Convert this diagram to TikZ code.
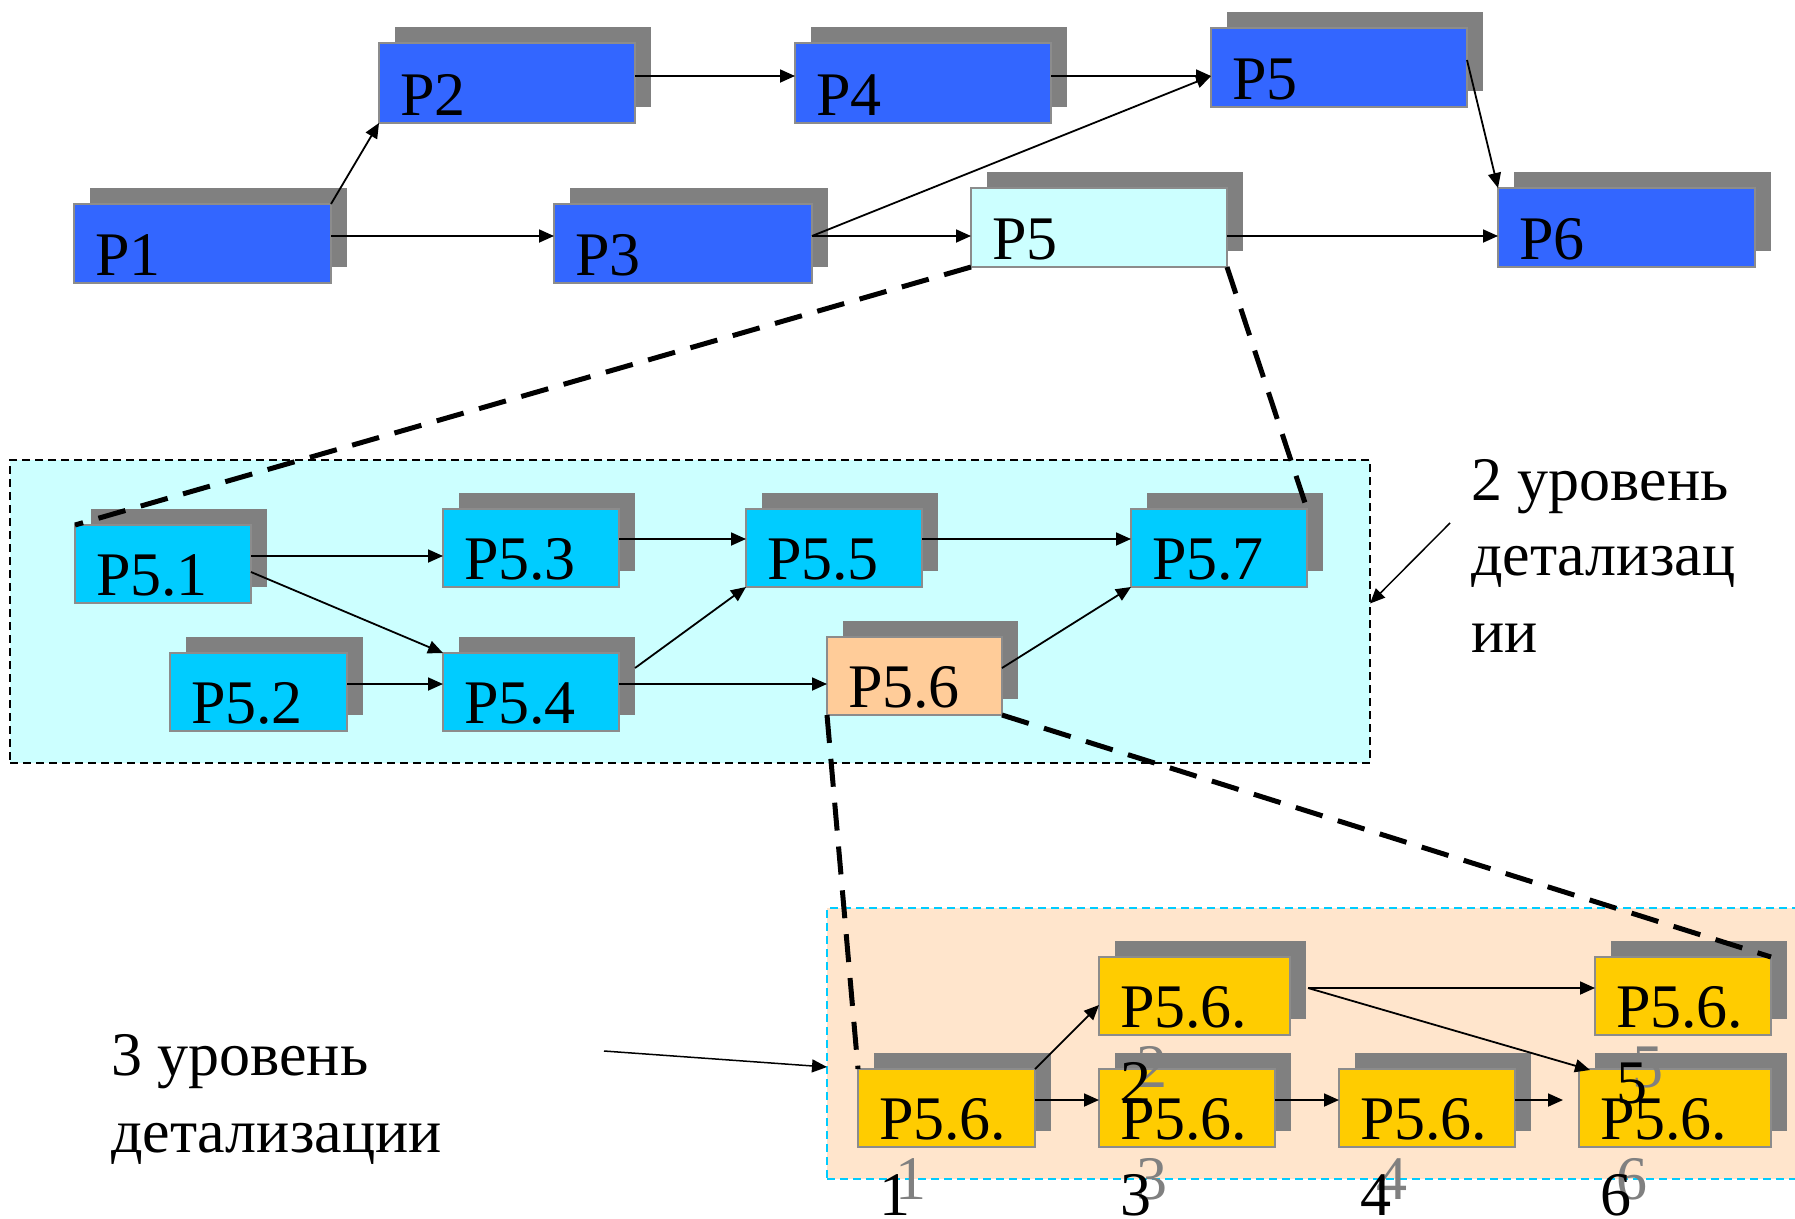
\documentclass[tikz,border=0pt]{standalone}
\usepackage{fontspec}
\setmainfont{Liberation Serif}
\usetikzlibrary{arrows.meta}
\definecolor{cblue}{HTML}{3366FF}
\definecolor{ccyan}{HTML}{00CCFF}
\definecolor{clcyan}{HTML}{CCFFFF}
\definecolor{corange}{HTML}{FFCC99}
\definecolor{cyellow}{HTML}{FFCC00}
\definecolor{cpeach}{HTML}{FFE5CC}
\definecolor{shadowc}{HTML}{808080}
\definecolor{borderc}{HTML}{8C8C8C}
\tikzset{
  boxbase/.style={draw=borderc,line width=2pt,inner sep=0pt,outer sep=0pt},
  lbl/.style={anchor=base west,inner sep=0pt,outer sep=0pt,font=\fontsize{62}{76}\selectfont},
  arr/.style={draw,line width=1.8pt,-{Triangle[length=15pt,width=13pt]}},
  zoomline/.style={draw,line width=5pt,dash pattern=on 28pt off 16pt},
  region/.style={line width=1.5pt,dash pattern=on 8pt off 5pt,inner sep=0pt,outer sep=0pt}
}
% name, left, top, right, bottom, fill, text
\newcommand\mkbox[7]{%
  \fill[shadowc] ({#2+16},{#3-16}) rectangle ({#4+16},{#5-16});
  \node[boxbase,fill=#6,minimum width={#4-#2},minimum height={#5-#3}] (#1) at ({(#2+#4)/2},{(#3+#5)/2}) {};
  \node[lbl] (#1t) at ({#2+21},{#5-8}) {#7};
}
% name, left, top, right, bottom, number
\newcommand\mkboxiii[6]{%
  \fill[shadowc] ({#2+16},{#3-16}) rectangle ({#4+16},{#5-16});
  \node[lbl,text=shadowc] (#1g) at ({#2+37},{#5-24}) {P5.6.};
  \node[lbl,text=shadowc] (#1gn) at ({#2+37},{#5+52}) {#6};
  \node[boxbase,fill=cyellow,minimum width={#4-#2},minimum height={#5-#3}] (#1) at ({(#2+#4)/2},{(#3+#5)/2}) {};
  \node[lbl] (#1t) at ({#2+21},{#5-8}) {P5.6.};
  \node[lbl] (#1n) at ({#2+21},{#5+68}) {#6};
}
\begin{document}
\begin{tikzpicture}[x=1pt,y=-1pt]
\useasboundingbox[fill=white] (0,0) rectangle (1795,1218);

% regions
\node[region,draw=black,fill=clcyan,minimum width=1360,minimum height=303] (lvl2) at (690,611.5) {};
\node[region,draw=ccyan,fill=cpeach,minimum width=975,minimum height=271] (lvl3) at (1314.5,1043.5) {};

% level 1
\mkbox{p1}{74}{204}{331}{283}{cblue}{P1}
\mkbox{p2}{379}{43}{635}{123}{cblue}{P2}
\mkbox{p3}{554}{204}{812}{283}{cblue}{P3}
\mkbox{p4}{795}{43}{1051}{123}{cblue}{P4}
\mkbox{p5a}{1211}{28}{1467}{107}{cblue}{P5}
\mkbox{p5b}{971}{188}{1227}{267}{clcyan}{P5}
\mkbox{p6}{1498}{188}{1755}{267}{cblue}{P6}

% level 2
\mkbox{p51}{75}{525}{251}{603}{ccyan}{P5.1}
\mkbox{p53}{443}{509}{619}{587}{ccyan}{P5.3}
\mkbox{p55}{746}{509}{922}{587}{ccyan}{P5.5}
\mkbox{p57}{1131}{509}{1307}{587}{ccyan}{P5.7}
\mkbox{p52}{170}{653}{347}{731}{ccyan}{P5.2}
\mkbox{p54}{443}{653}{619}{731}{ccyan}{P5.4}
\mkbox{p56}{827}{637}{1002}{715}{corange}{P5.6}

% level 3
\mkboxiii{b1}{858}{1069}{1035}{1147}{1}
\mkboxiii{b3}{1099}{1069}{1275}{1147}{3}
\mkboxiii{b4}{1339}{1069}{1515}{1147}{4}
\mkboxiii{b6}{1579}{1069}{1771}{1147}{6}
\mkboxiii{b2}{1099}{957}{1290}{1035}{2}
\mkboxiii{b5}{1595}{957}{1771}{1035}{5}

% labels
\node[lbl] (l2a) at (1471,500) {2 уровень};
\node[lbl] (l2b) at (1471,575) {детализац};
\node[lbl] (l2c) at (1471,652) {ии};
\node[lbl] (l3a) at (111,1075) {3 уровень};
\node[lbl] (l3b) at (111,1152) {детализации};
\coordinate (l2arr) at (1450,523);
\coordinate (l3arr) at (604,1051);

% level 1 arrows
\draw[arr] (p1.north east) -- (p2.south west);
\draw[arr] ([yshift=7.5pt]p1.east) -- ([yshift=7.5pt]p3.west);
\draw[arr] ([yshift=7pt]p2.east) -- ([yshift=7pt]p4.west);
\draw[arr] ([yshift=7pt]p4.east) -- ([yshift=-8.5pt]p5a.west);
\draw[arr] ([yshift=7.5pt]p3.east) -- ([yshift=-8.5pt]p5a.west);
\draw[arr] ([yshift=7.5pt]p3.east) -- ([yshift=-8.5pt]p5b.west);
\draw[arr] ([yshift=-8.5pt]p5b.east) -- ([yshift=-8.5pt]p6.west);
\draw[arr] ([yshift=7.5pt]p5a.east) -- (p6.north west);

% level 2 arrows
\draw[arr] ([yshift=8pt]p51.east) -- ([yshift=-8pt]p53.west);
\draw[arr] ([yshift=-8pt]p51.east) -- (p54.north west);
\draw[arr] ([yshift=8pt]p52.east) -- ([yshift=8pt]p54.west);
\draw[arr] ([xshift=16pt,yshift=24pt]p54.east) -- (p55.south west);
\draw[arr] ([yshift=8pt]p54.east) -- ([yshift=-8pt]p56.west);
\draw[arr] ([yshift=9pt]p53.east) -- ([yshift=9pt]p55.west);
\draw[arr] ([yshift=9pt]p55.east) -- ([yshift=9pt]p57.west);
\draw[arr] ([yshift=8pt]p56.east) -- (p57.south west);

% level 3 arrows
\draw[arr] ([yshift=8pt]b1.east) -- ([yshift=8pt]b3.west);
\draw[arr] (b1.north east) -- ([yshift=-9pt]b2.west);
\draw[arr] ([yshift=8pt]b3.east) -- ([yshift=8pt]b4.west);
\draw[arr,shorten >=16pt] ([yshift=8pt]b4.east) -- ([yshift=8pt]b6.west);
\draw[arr] ([xshift=18pt,yshift=8pt]b2.east) -- ([yshift=8pt]b5.west);
\draw[arr] ([xshift=18pt,yshift=8pt]b2.east) -- ([xshift=11pt,yshift=-1pt]b6.north west);

% label arrows
\draw[arr,line width=1.5pt] (l2arr) -- ([yshift=8pt]lvl2.east);
\draw[arr,line width=1.5pt] (l3arr) -- ([yshift=-23.5pt]lvl3.west);

% zoom lines
\draw[zoomline] (p5b.south west) -- (p51.north west);
\draw[zoomline] (p5b.south east) -- (p57.north east);
\draw[zoomline] (p56.south west) -- (b1.north west);
\draw[zoomline] (p56.south east) -- (b5.north east);
\end{tikzpicture}
\end{document}
